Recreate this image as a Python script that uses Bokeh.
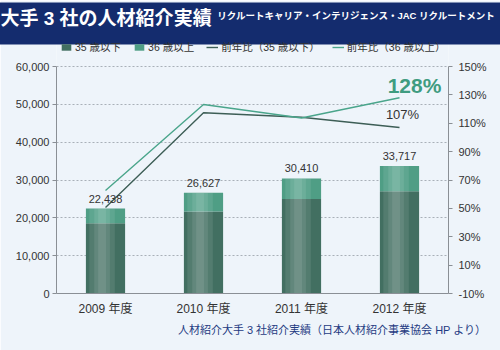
from bokeh.plotting import figure
from bokeh.core.properties import value
from bokeh.models import (ColumnDataSource, Range1d, LinearAxis, FixedTicker,
                          NumeralTickFormatter, PrintfTickFormatter, LabelSet, Label,
                          Legend, LegendItem, FactorRange, Title)
from bokeh.transform import dodge
from bokeh.embed import file_html
from bokeh.resources import INLINE

# ---- data ----
years = ["2009 年度", "2010 年度", "2011 年度", "2012 年度"]
under35 = [18600, 21700, 25000, 27000]
over36 = [3838, 4927, 5410, 6717]
totals = [22438, 26627, 30410, 33717]
yoy_under35 = [50.6, 117.4, 114.2, 107]
yoy_over36 = [62.6, 123.2, 113.7, 128]
left_ticks = [0, 10000, 20000, 30000, 40000, 50000, 60000]
right_ticks = [-10, 10, 30, 50, 70, 90, 110, 130, 150]
series_names = ["35 歳以下", "36 歳以上", "前年比（35 歳以下）", "前年比（36 歳以上）"]
title_text = "大手 3 社の人材紹介実績"
subtitle_text = "リクルートキャリア・インテリジェンス・JAC リクルートメント"
footer_text = "人材紹介大手 3 社紹介実績（日本人材紹介事業協会 HP より）"

FONT = "Liberation Sans, Noto Sans CJK JP, sans-serif"
BG = "#eef4fa"
NAVY = "#142c6e"
DARK = "#426f61"
TEAL = "#4f9e85"
LINE_DARK = "#3d5e56"
LINE_TEAL = "#4aa58b"

# layout: frame spans y=42..293 px; the value axes occupy 66..293 px
FRAME_TOP, AXIS_TOP, FRAME_BOTTOM = 42, 66, 293
ext = (FRAME_BOTTOM - FRAME_TOP) / (FRAME_BOTTOM - AXIS_TOP)
y_lo, y_hi = left_ticks[0], left_ticks[-1]
r_lo, r_hi = right_ticks[0], right_ticks[-1]

source = ColumnDataSource(dict(
    x=years, under35=under35, over36=over36, total=totals,
    total_lbl=[f"{v:,}" for v in totals],
    yoy35=yoy_under35, yoy36=yoy_over36,
))
last = len(years) - 1
last_src = ColumnDataSource(dict(
    x=[years[last]], y36=[yoy_over36[last]], y35=[yoy_under35[last]],
    t36=[f"{round(yoy_over36[last])}%"], t35=[f"{round(yoy_under35[last])}%"],
))

p = figure(width=500, height=350, x_range=FactorRange(*years, range_padding=0),
           y_range=Range1d(y_lo, y_lo + (y_hi - y_lo) * ext),
           output_backend="svg", toolbar_location=None,
           min_border_left=56, min_border_right=52, min_border_top=FRAME_TOP,
           min_border_bottom=350 - FRAME_BOTTOM)
p.background_fill_color = BG
p.border_fill_color = BG
p.outline_line_color = None
p.extra_y_ranges = {"pct": Range1d(r_lo, r_lo + (r_hi - r_lo) * ext)}

stack = p.vbar_stack(["under35", "over36"], x="x", width=0.4, source=source,
                     color=[DARK, TEAL], line_color=None)
for w, a in [(0.26, 0.09), (0.16, 0.09), (0.08, 0.09)]:
    p.vbar(x=dodge("x", -0.035, range=p.x_range), top="total", width=w, source=source,
           fill_color="white", fill_alpha=a, line_color=None)

l35 = p.line("x", "yoy35", source=source, y_range_name="pct", line_color=LINE_DARK, line_width=1.4)
l36 = p.line("x", "yoy36", source=source, y_range_name="pct", line_color=LINE_TEAL, line_width=1.4)

p.add_layout(LabelSet(x="x", y="total", text="total_lbl", source=source, text_align="center",
                      text_baseline="bottom", y_offset=6, text_font=value(FONT),
                      text_font_size=value("11px"), text_color="#333333"))
p.add_layout(LabelSet(x="x", y="y36", text="t36", source=last_src, y_range_name="pct",
                      x_offset=15, y_offset=12, text_align="center", text_baseline="middle",
                      text_font=value(FONT), text_font_size=value("21px"),
                      text_font_style="bold", text_color="#3f9c80"))
p.add_layout(LabelSet(x="x", y="y35", text="t35", source=last_src, y_range_name="pct",
                      x_offset=3, y_offset=13, text_align="center", text_baseline="middle",
                      text_font=value(FONT), text_font_size=value("13px"), text_color="#333333"))

p.yaxis.ticker = FixedTicker(ticks=left_ticks)
p.yaxis.formatter = NumeralTickFormatter(format="0,0")
p.yaxis.bounds = (y_lo, y_hi)
ax_r = LinearAxis(y_range_name="pct", ticker=FixedTicker(ticks=right_ticks),
                  formatter=PrintfTickFormatter(format="%d%%"), bounds=(r_lo, r_hi))
p.add_layout(ax_r, "right")
for ax in [p.yaxis[0], ax_r]:
    ax.axis_line_color = "#8a8f95"
    ax.major_tick_line_color = "#8a8f95"
    ax.major_tick_out = 4
    ax.major_tick_in = 0
    ax.minor_tick_line_color = None
    ax.major_label_text_font = FONT
    ax.major_label_text_font_size = "11px"
    ax.major_label_text_color = "#333333"
    ax.major_label_standoff = 3
ax_r.major_label_standoff = 6
p.xaxis.axis_line_color = "#8a8f95"
p.xaxis.major_tick_line_color = None
p.xaxis.major_tick_out = 0
p.xaxis.major_tick_in = 0
p.xaxis.major_label_text_font = FONT
p.xaxis.major_label_text_font_size = "12px"
p.xaxis.major_label_text_color = "#333333"
p.xaxis.major_label_standoff = 8
p.xgrid.grid_line_color = None
p.ygrid.grid_line_color = "#a9b0b8"
p.ygrid.grid_line_dash = "2 2"

# legend inside the (extended) frame, above the axes' top
legend = Legend(items=[LegendItem(label=series_names[0], renderers=[stack[0]]),
                       LegendItem(label=series_names[1], renderers=[stack[1]]),
                       LegendItem(label=series_names[2], renderers=[l35]),
                       LegendItem(label=series_names[3], renderers=[l36])],
                orientation="horizontal", location=(4, 239), padding=0, margin=0,
                spacing=12, glyph_width=12, glyph_height=8, label_standoff=3,
                background_fill_alpha=0, border_line_color=None,
                label_text_font=FONT, label_text_font_size="10.5px",
                label_text_color="#333333", label_height=12)
p.add_layout(legend, "center")

# footer
p.add_layout(Title(text=footer_text, align="right", offset=-38, standoff=6,
                   text_font=FONT, text_font_size="11px", text_font_style="normal",
                   text_color="#1f3b82"), "below")

# title bar: the title label's navy box (horizontal padding + thick navy border)
p.add_layout(Label(x=-56, y=19, x_units="screen", y_units="screen",
                   text=title_text, text_baseline="middle", text_font=FONT,
                   text_font_size="19px", text_font_style="bold", text_color="white",
                   background_fill_color=NAVY, border_line_color=NAVY,
                   border_line_width=11, border_line_join="miter",
                   padding=(0, 320, 0, 10)), "above")
p.add_layout(Label(x=439, y=-4, x_units="screen", y_units="screen",
                   text=subtitle_text, text_align="right", text_baseline="middle",
                   text_font=FONT, text_font_size="9.5px", text_font_style="bold",
                   text_color="white"), "above")

open("out.html", "w").write(file_html(p, INLINE))
